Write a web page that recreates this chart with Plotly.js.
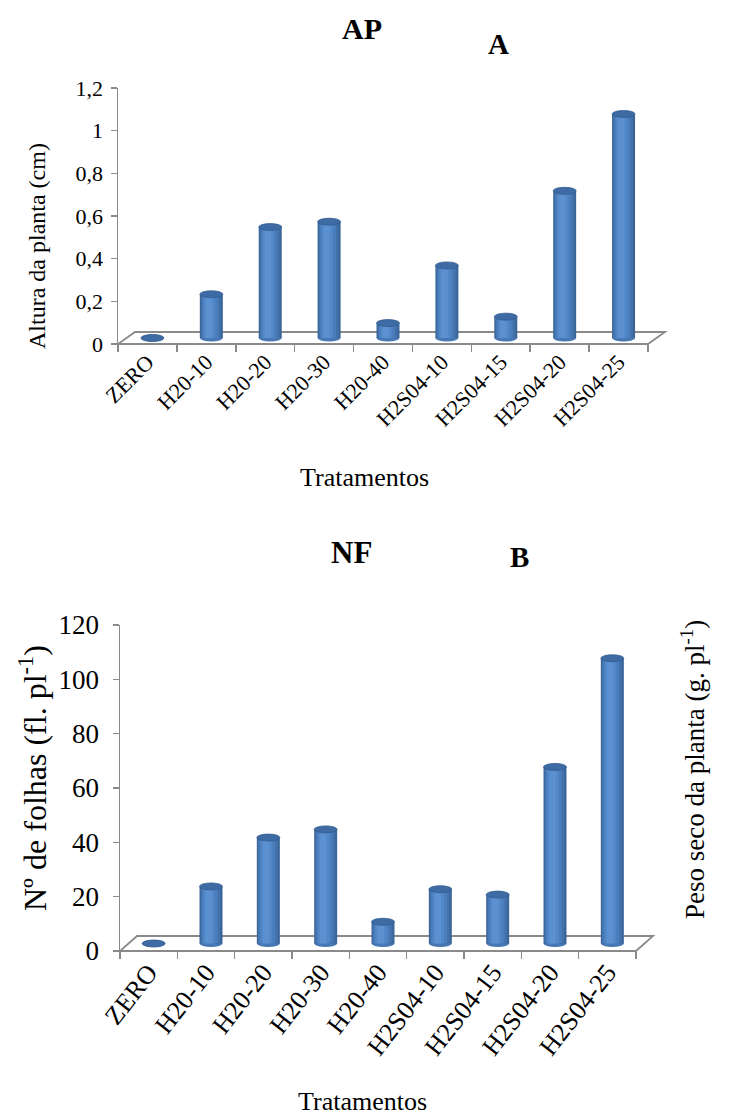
<!DOCTYPE html>
<html><head><meta charset="utf-8">
<script src="https://cdn.plot.ly/plotly-3.0.1.min.js"></script>
<style>html,body{margin:0;padding:0;background:#fff}#chart{width:732px;height:1115px}</style>
</head><body><div id="chart"></div>
<script>
// ---- data ----
const categories = ['ZERO', 'H20-10', 'H20-20', 'H20-30', 'H20-40', 'H2S04-10', 'H2S04-15', 'H2S04-20', 'H2S04-25'];
const alturaPlanta = [0, 0.205, 0.52, 0.545, 0.07, 0.34, 0.10, 0.69, 1.05];
const numeroFolhas = [0, 21, 39, 42, 8, 20, 18, 65, 105];
const alturaTickVals = [0, 0.2, 0.4, 0.6, 0.8, 1, 1.2];
const alturaTickText = ['0', '0,2', '0,4', '0,6', '0,8', '1', '1,2'];
const folhasTickVals = [0, 20, 40, 60, 80, 100, 120];
const folhasTickText = ['0', '20', '40', '60', '80', '100', '120'];

// ---- layout geometry (pixels) ----
const W = 732, H = 1115, ML = 60, MR = 50, MT = 0, MB = 0;
const PW = W - ML - MR, PH = H - MT - MB;
const fx = px => (px - ML) / PW;
const fy = py => 1 - (py - MT) / PH;
const FONT = 'Liberation Serif, Times New Roman, serif';
const AXIS_GREY = '#8a8a8a';

const panels = [
  {xa: 'x', ya: 'y', values: alturaPlanta, tickvals: alturaTickVals, ticktext: alturaTickText,
   x0: 118, x1: 648, y0: 344, y1: 88, ymax: 1.2, ddx: 17, ddy: 12,
   ytitle: 'Altura da planta (cm)', ytitleSize: 24, ytitlePos: [37, 246], ytickSize: 22, ytickStandoff: 3,
   xtickSize: 22, xtickAngle: -45, xtitleSize: 26, xtitlePos: [364, 477]},
  {xa: 'x2', ya: 'y2', values: numeroFolhas, tickvals: folhasTickVals, ticktext: folhasTickText,
   x0: 120, x1: 636, y0: 951, y1: 625, ymax: 120, ddx: 17, ddy: 15,
   ytitle: 'Nº de folhas (fl. pl<sup>-1</sup>)', ytitleSize: 32, ytitlePos: [33, 778], ytickSize: 27, ytickStandoff: 8,
   xtickSize: 26, xtickAngle: -52, xtitleSize: 26, xtitlePos: [362, 1101]}
];

// cylinder shading layers: [width fraction, centre offset fraction, colour]
const layers = [
  [1.00, 0.00, '#3a6597'],
  [0.86, -0.02, '#4371aa'],
  [0.70, -0.05, '#4a7dbc'],
  [0.50, -0.08, '#5288c8'],
  [0.28, -0.10, '#5b91d1']
];

const traces = [];
const shapes = [];
const annotations = [];
const layout = {
  width: W, height: H,
  margin: {l: ML, r: MR, t: MT, b: MB},
  paper_bgcolor: '#ffffff', plot_bgcolor: 'rgba(0,0,0,0)',
  barmode: 'overlay',
  showlegend: false,
  font: {family: FONT, color: '#000'},
  annotations: annotations,
  shapes: shapes
};

const ann = (text, px, py, size, extra) => Object.assign({
  text: text, xref: 'paper', yref: 'paper', x: fx(px), y: fy(py),
  xanchor: 'center', yanchor: 'middle', showarrow: false,
  font: {family: FONT, size: size, color: '#000'}
}, extra || {});

panels.forEach((p, idx) => {
  const n = categories.length;
  const catW = (p.x1 - p.x0) / n;
  const xExtra = p.ddx / catW + 0.03;
  const pxPerUnit = (p.y0 - p.y1) / p.ymax;
  const shift = 5 / catW;
  const base = (p.ddy / 2) / pxPerUnit;
  const barW = 23 / catW;
  const capH = 3.5 / pxPerUnit;
  const sfx = idx === 0 ? '' : '2';

  layout['xaxis' + sfx] = {
    type: 'category', categoryorder: 'array', categoryarray: categories,
    range: [-0.5, n - 0.5 + xExtra], domain: [fx(p.x0), fx(p.x1 + xExtra * catW)],
    anchor: p.ya, showline: false, showgrid: false, zeroline: false,
    ticks: 'outside', tickson: 'boundaries', ticklen: 7, tickwidth: 1.5, tickcolor: AXIS_GREY,
    tickangle: p.xtickAngle, tickfont: {family: FONT, size: p.xtickSize, color: '#000'},
    fixedrange: true
  };
  layout['yaxis' + sfx] = {
    range: [0, p.ymax], domain: [fy(p.y0), fy(p.y1)], anchor: p.xa,
    showline: true, linecolor: AXIS_GREY, linewidth: 1.5,
    showgrid: false, zeroline: false,
    ticks: 'outside', ticklen: 6, tickwidth: 1.5, tickcolor: AXIS_GREY,
    ticklabelstandoff: p.ytickStandoff,
    tickmode: 'array', tickvals: p.tickvals, ticktext: p.ticktext,
    tickfont: {family: FONT, size: p.ytickSize, color: '#000'},
    fixedrange: true
  };

  // axis titles placed as in the reference
  annotations.push(ann(p.ytitle, p.ytitlePos[0], p.ytitlePos[1], p.ytitleSize, {textangle: -90}));
  annotations.push(ann('Tratamentos', p.xtitlePos[0], p.xtitlePos[1], p.xtitleSize));

  // 3-D floor (style geometry only)
  const fl = [fx(p.x0), fy(p.y0)], fr = [fx(p.x1), fy(p.y0)];
  const br = [fx(p.x1 + p.ddx), fy(p.y0 - p.ddy)], bl = [fx(p.x0 + p.ddx), fy(p.y0 - p.ddy)];
  shapes.push({type: 'path', xref: 'paper', yref: 'paper', layer: 'below',
    path: `M${fl[0]},${fl[1]} L${fr[0]},${fr[1]} L${br[0]},${br[1]} L${bl[0]},${bl[1]} Z`,
    line: {color: AXIS_GREY, width: 1.8}, fillcolor: 'rgba(0,0,0,0)'});

  // cylinder bodies
  layers.forEach(([wf, off, col]) => {
    traces.push({
      type: 'bar', x: categories, y: p.values, base: base,
      width: barW * wf, offset: shift + off * barW - barW * wf / 2,
      marker: {color: col, line: {width: 0}},
      xaxis: p.xa, yaxis: p.ya, hoverinfo: 'skip', showlegend: false
    });
  });

  // rounded bottoms and elliptic tops
  p.values.forEach((v, i) => {
    const xa0 = i + shift - barW / 2, xa1 = i + shift + barW / 2;
    shapes.push({type: 'circle', xref: p.xa, yref: p.ya, layer: 'below',
      x0: xa0, x1: xa1, y0: base - capH, y1: base + capH,
      fillcolor: '#4878b3', line: {width: 0}});
    shapes.push({type: 'circle', xref: p.xa, yref: p.ya, layer: 'above',
      x0: xa0, x1: xa1, y0: base + v - capH, y1: base + v + capH,
      fillcolor: '#3e6ba4', line: {color: '#335d92', width: 0.8}});
  });
});

annotations.push(
  ann('<b>AP</b>', 362, 28, 30),
  ann('<b>A</b>', 498, 44, 29),
  ann('<b>NF</b>', 351, 552, 31),
  ann('<b>B</b>', 519, 557, 29),
  ann('Peso seco da planta (g. pl<sup>-1</sup>)', 693, 770, 27, {textangle: -90})
);

Plotly.newPlot('chart', traces, layout, {displayModeBar: false, staticPlot: true});
</script>
</body></html>
